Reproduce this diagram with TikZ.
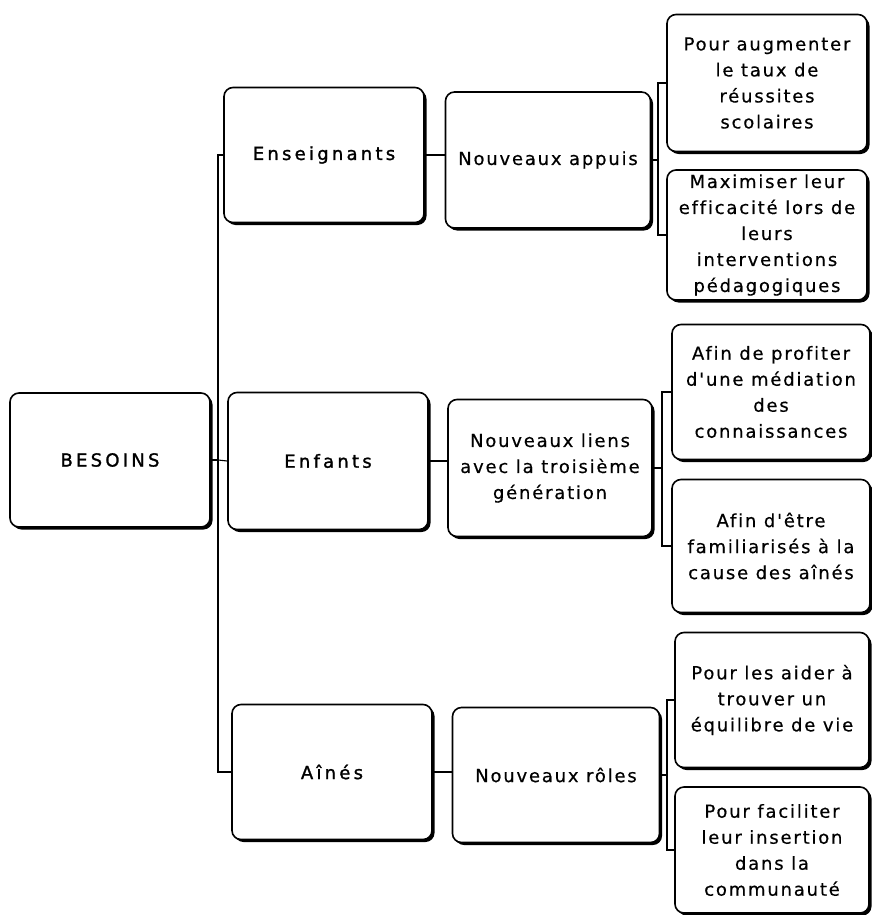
\documentclass[tikz,border=0pt]{standalone}
\usepackage{fontspec}
\setmainfont[LetterSpace=10,Ligatures={TeXOff,CommonOff},FakeBold=0.5]{DejaVu Sans}
\newfontfamily\headfont[LetterSpace=18,Ligatures={TeXOff,CommonOff},FakeBold=1.4]{DejaVu Sans}
\usetikzlibrary{shadows}

\begin{document}
\begin{tikzpicture}[x=1pt,y=-1pt,
  box/.style={draw=black, line width=1.6pt, rounded corners=9pt, fill=white,
    drop shadow={shadow xshift=2.5pt, shadow yshift=-2.5pt, fill=black, opacity=1},
    align=center, inner sep=0pt, font=\fontsize{18}{26}\selectfont},
  headbox/.style={box, font=\headfont\fontsize{18}{26}\selectfont},
  link/.style={draw=black, line width=1.1pt}
]
\useasboundingbox (0,0) rectangle (872,915);

% root
\node[headbox, minimum width=200pt, minimum height=134pt] (root) at (110,460) {BESOINS};

% first level
\node[headbox, minimum width=200pt, minimum height=135pt] (ens) at (324,155) {Enseignants};
\node[headbox, minimum width=200pt, minimum height=137pt] (enf) at (328,461) {Enfants};
\node[headbox, minimum width=200pt, minimum height=135pt] (ain) at (332,772) {Aînés};

% second level
\node[box, minimum width=205pt, minimum height=136pt] (app) at (548,160) {Nouveaux appuis};
\node[box, minimum width=204pt, minimum height=137pt] (lie) at (550,468) {Nouveaux liens\\avec la troisième\\génération};
\node[box, minimum width=207pt, minimum height=135pt] (rol) at (556,775) {Nouveaux rôles};

% third level
\node[box, minimum width=200pt, minimum height=137pt] (r1a) at (767,83) {Pour augmenter\\le taux de\\réussites\\scolaires};
\node[box, minimum width=200pt, minimum height=130pt] (r1b) at (767,235) {Maximiser leur\\efficacité lors de\\leurs\\interventions\\pédagogiques};
\node[box, minimum width=198pt, minimum height=135pt] (r2a) at (771,392) {Afin de profiter\\d'une médiation\\des\\connaissances};
\node[box, minimum width=198pt, minimum height=133pt] (r2b) at (771,546) {Afin d'être\\familiarisés à la\\cause des aînés};
\node[box, minimum width=194pt, minimum height=135pt] (r3a) at (772,700) {Pour les aider à\\trouver un\\équilibre de vie};
\node[box, minimum width=194pt, minimum height=126pt] (r3b) at (772,850) {Pour faciliter\\leur insertion\\dans la\\communauté};

% trunk from the root
\coordinate (trunk) at (218,460);
\draw[link] (root.east) -- (trunk);
\draw[link] (ens.west) -| (trunk) |- (ain.west);
\draw[link] (trunk) -- (enf.west);

% first to second level
\draw[link] (ens.east) -- (ens.east -| app.west);
\draw[link] (enf.east) -- (enf.east -| lie.west);
\draw[link] (ain.east) -- (ain.east -| rol.west);

% brackets to the third level
\coordinate (j1) at (658,160);
\coordinate (j2) at (662,468);
\coordinate (j3) at (667,775);
\draw[link] (app.east) -- (j1);
\draw[link] (r1a.west) -| (j1) |- (r1b.west);
\draw[link] (lie.east) -- (j2);
\draw[link] (r2a.west) -| (j2) |- (r2b.west);
\draw[link] (rol.east) -- (j3);
\draw[link] (r3a.west) -| (j3) |- (r3b.west);
\end{tikzpicture}
\end{document}
